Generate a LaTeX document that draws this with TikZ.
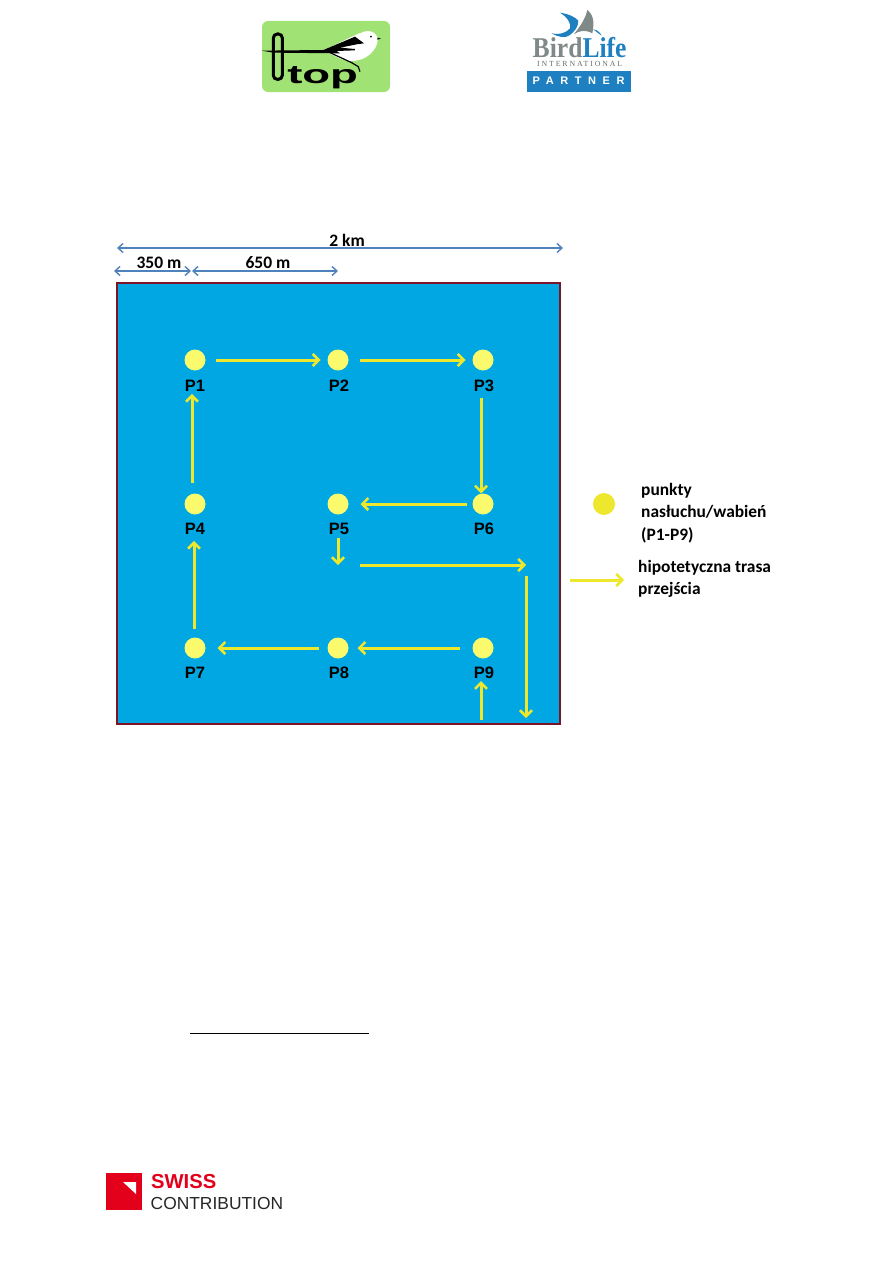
\documentclass[tikz,border=0pt]{standalone}
\usepackage{fontspec}
\setmainfont{Liberation Sans}
\newfontfamily\carlito{Carlito}
\newfontfamily\serifb{Liberation Serif}
\usetikzlibrary{arrows.meta}
\definecolor{poleblue}{HTML}{00A7E3}
\definecolor{polerim}{HTML}{7B1427}
\definecolor{dimblue}{HTML}{4F81BD}
\definecolor{trackyellow}{HTML}{EDE72D}
\definecolor{pointyellow}{HTML}{FBF96C}
\definecolor{otopgreen}{HTML}{A1E274}
\definecolor{birdblue}{HTML}{1E80C1}
\definecolor{birdgrey}{HTML}{7F8988}
\definecolor{swissred}{HTML}{E2001A}
\tikzset{
	point/.style={circle, fill=pointyellow, inner sep=0pt, minimum size=21pt, outer sep=0pt},
	ptlabel/.style={font=\bfseries\fontsize{16.5}{18}\selectfont, inner sep=0pt},
	track/.style={draw=trackyellow, line width=3pt, -{Straight Barb[length=6pt,width=12pt,line width=2.6pt]}},
	dimline/.style={draw=dimblue, line width=1.4pt, {Straight Barb[length=5pt,width=9pt]}-{Straight Barb[length=5pt,width=9pt]}},
	dimtext/.style={font=\carlito\bfseries\fontsize{17.5}{19}\selectfont, inner sep=0pt},
	legendtext/.style={font=\carlito\bfseries\fontsize{17.4}{22.5}\selectfont, align=left, inner sep=0pt, anchor=west},
}
\begin{document}
\begin{tikzpicture}[x=1pt, y=-1pt]
	\useasboundingbox (0,0) rectangle (893,1263);

	% obszar powierzchni
	\draw[fill=poleblue, draw=polerim, line width=1.6pt] (117,283) rectangle (560,724);

	% wymiary nad powierzchnia
	\coordinate (kmL) at (117,248);
	\coordinate (kmR) at (563,248);
	\coordinate (aL) at (114,271);
	\coordinate (aR) at (191,271);
	\coordinate (bL) at (192,271);
	\coordinate (bR) at (338,271);
	\draw[dimline] (kmL) -- (kmR);
	\draw[dimline] (aL) -- (aR);
	\draw[dimline] (bL) -- (bR);
	\node[dimtext] (km) at (347,240) {2 km};
	\node[dimtext] (dista) at (159,263) {350 m};
	\node[dimtext] (distb) at (268,263) {650 m};

	% punkty nasluchu
	\node[point] (P1) at (195,360) {};
	\node[point] (P2) at (338,360) {};
	\node[point] (P3) at (483,360) {};
	\node[point] (P4) at (195,504) {};
	\node[point] (P5) at (338,504) {};
	\node[point] (P6) at (483,504) {};
	\node[point] (P7) at (195,648) {};
	\node[point] (P8) at (338,648) {};
	\node[point] (P9) at (483,648) {};
	\node[ptlabel] (tP1) at (195,386) {P1};
	\node[ptlabel] (tP2) at (339,386) {P2};
	\node[ptlabel] (tP3) at (484,386) {P3};
	\node[ptlabel] (tP4) at (195,529) {P4};
	\node[ptlabel] (tP5) at (339,529) {P5};
	\node[ptlabel] (tP6) at (484,529) {P6};
	\node[ptlabel] (tP7) at (195,673) {P7};
	\node[ptlabel] (tP8) at (339,673) {P8};
	\node[ptlabel] (tP9) at (484,673) {P9};

	% trasa przejscia
	\coordinate (sA) at (338,538);
	\coordinate (sB) at (338,565);
	\coordinate (sC) at (360,565);
	\coordinate (sD) at (526,565);
	\coordinate (sE) at (526,576);
	\coordinate (sF) at (526,718);
	\coordinate (sG) at (481,720);
	\draw[track, shorten <=10pt, shorten >=7pt] (P1) -- (P2);
	\draw[track, shorten <=11pt, shorten >=7pt] (P2.east) -- (P3.west);
	\draw[track] ([shift={(-3,6)}]tP3.south) -- ([xshift=-2pt]P6.north);
	\draw[track, shorten <=6pt, shorten >=12pt] (P6.west) -- (P5.east);
	\draw[track] (sA) -- (sB);
	\draw[track] (sC) -- (sD);
	\draw[track] (sE) -- (sF);
	\draw[track] (sG) -- ([shift={(-3,2)}]tP9.south);
	\draw[track, shorten <=13pt, shorten >=9pt] (P9.west) -- (P8.east);
	\draw[track, shorten <=9pt, shorten >=12pt] (P8.west) -- (P7.east);
	\draw[track] ([shift={(-1,-9)}]P7.north) -- ([shift={(-1,6)}]tP4.south);
	\draw[track] ([shift={(-3,-11)}]P4.north) -- ([shift={(-3,2)}]tP1.south);

	% legenda
	\node[circle, fill=trackyellow, inner sep=0pt, minimum size=22pt] (lgpoint) at (604,504) {};
	\node[legendtext] (lgpunkty) at (641,513) {punkty\\nasłuchu/wabień\\(P1-P9)};
	\coordinate (lgA) at (570,580);
	\coordinate (lgB) at (624,580);
	\draw[track] (lgA) -- (lgB);
	\node[legendtext] (lgtrasa) at (638,579) {hipotetyczna trasa\\przejścia};

	% kreska przypisu
	\draw[line width=0.8pt] (190,1033) -- (369,1033);

	% znak OTOP
	\fill[otopgreen, rounded corners=6pt] (262,21) rectangle (390,92);
	\begin{scope}[shift={(240,0)}, x=0.3333pt, y=-0.3333pt]
		\draw[line width=3pt, rounded corners=4pt] (100,102) rectangle (127,238);
		\fill[white] (250,150) .. controls (300,130) and (340,105) .. (365,98) .. controls (390,85) and (415,100) .. (413,122) .. controls (410,150) and (380,185) .. (330,183) .. controls (300,180) and (280,165) .. (260,155) -- cycle;
		\fill[black] (65,152) -- (250,150) -- (345,110) -- (372,130) -- (350,133) -- (300,143) -- (345,147) -- (345,151) -- (290,153) -- (300,160) -- (100,158) -- cycle;
		\fill[black] (413,113) -- (423,116) -- (412,119) -- cycle;
		\fill[black] (393,110) circle (3);
		\draw[line width=1.2pt] (270,158) -- (335,188) -- (355,200) -- (360,215);
		\node[font=\bfseries\fontsize{26}{26}\selectfont, xscale=1.75, inner sep=0pt, anchor=base] (toptext) at (248,250) {top};
	\end{scope}

	% znak BirdLife
	\begin{scope}[shift={(510,0)}, x=0.3333pt, y=-0.3333pt]
		\fill[birdgrey] (192,102) .. controls (215,75) and (228,50) .. (232,30) .. controls (250,45) and (254,65) .. (247,100) .. controls (225,88) and (210,92) .. (192,102) -- cycle;
		\fill[birdblue] (150,38) .. controls (175,42) and (195,50) .. (205,62) .. controls (205,80) and (195,95) .. (175,108) .. controls (165,114) and (145,112) .. (125,100) .. controls (150,105) and (170,98) .. (180,85) .. controls (185,70) and (170,50) .. (150,38) -- cycle;
		\fill[birdblue] (250,88) .. controls (262,90) and (270,97) .. (275,107) .. controls (265,100) and (258,95) .. (250,88) -- cycle;
		\fill[birdblue] (50,213) rectangle (362,275);
		\node[font=\serifb\bfseries\fontsize{25.6}{26}\selectfont, yscale=1.12, inner sep=0pt, anchor=base] (birdlife) at (209,172) {\textcolor{birdgrey}{Bird}\textcolor{birdblue}{Life}};
		\node[font=\serifb\fontsize{7.8}{8}\selectfont, text=birdgrey!80!black, inner sep=0pt] (intl) at (209,193) {\addfontfeature{LetterSpace=24}INTERNATIONAL};
		\node[font=\bfseries\fontsize{11}{11}\selectfont, text=white, inner sep=0pt] (partner) at (206,243) {\addfontfeature{LetterSpace=60}PARTNER};
	\end{scope}

	% znak Swiss Contribution
	\fill[swissred] (106,1173) rectangle (142,1209.5);
	\fill[white] (123,1182) -- (136,1182) -- (136,1194) -- cycle;
	\node[font=\bfseries\fontsize{20.2}{20}\selectfont, text=swissred, inner sep=0pt, anchor=base west] (swiss) at (151,1188) {SWISS};
	\node[font=\fontsize{17.4}{18}\selectfont, text=black!85, inner sep=0pt, anchor=base west] (contrib) at (150.5,1209) {CONTRIBUTION};
\end{tikzpicture}
\end{document}
